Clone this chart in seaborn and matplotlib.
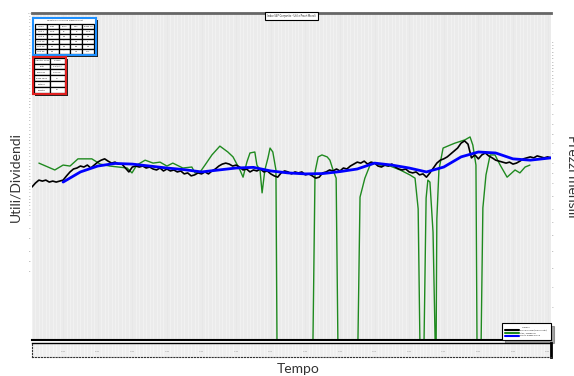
import numpy as np
import pandas as pd
import seaborn as sns
import matplotlib
matplotlib.use('Agg')
import matplotlib.pyplot as plt
from matplotlib.patches import Rectangle
from matplotlib.lines import Line2D

# monthly prices (annual samples), black line
price_years = list(range(1871, 2022))
price_vals = [46.8, 48.0, 48.9, 48.6, 48.9, 48.3, 48.6, 48.3, 48.6, 48.9,
              50.2, 51.4, 52.3, 52.6, 53.2, 52.9, 53.5, 52.6, 53.5, 54.4,
              55.0, 55.4, 54.7, 54.1, 54.4, 53.8, 53.8, 52.6, 51.4, 52.9,
              53.2, 52.9, 53.2, 52.6, 52.9, 52.3, 52.0, 52.6, 51.7, 52.3,
              51.7, 52.0, 51.4, 51.7, 50.8, 51.1, 50.2, 50.5, 51.1, 50.8,
              51.4, 50.8, 51.7, 52.3, 53.2, 53.8, 54.1, 53.8, 53.2, 53.5,
              52.9, 52.0, 52.3, 51.4, 52.0, 51.7, 52.3, 51.4, 51.7, 50.8,
              50.2, 49.8, 51.1, 51.7, 51.4, 50.8, 51.4, 51.1, 51.4, 50.5,
              50.8, 50.2, 49.5, 49.8, 51.1, 51.4, 52.0, 51.7, 52.3, 51.7,
              52.6, 52.3, 53.2, 53.8, 54.4, 54.1, 54.7, 53.8, 54.4, 54.1,
              53.2, 52.9, 53.5, 53.2, 53.8, 52.9, 52.3, 52.0, 52.3, 51.4,
              51.1, 51.4, 50.5, 50.8, 49.8, 51.1, 52.6, 54.1, 55.0, 55.4,
              56.0, 56.9, 57.8, 58.7, 60.2, 60.9, 59.9, 55.7, 56.6, 55.4,
              56.6, 57.2, 56.3, 55.7, 55.0, 54.7, 54.4, 54.1, 54.4, 53.8,
              54.1, 54.7, 55.4, 55.7, 56.0, 55.7, 56.3, 56.0, 55.7, 56.0,
              55.7]

# smoothed trend, blue line
trend_years = [1880, 1885, 1890, 1895, 1900, 1905, 1910, 1915, 1920, 1925,
               1930, 1935, 1940, 1945, 1950, 1955, 1960, 1965, 1970, 1975,
               1980, 1985, 1990, 1995, 2000, 2005, 2010, 2015, 2021]
trend_vals = [48.3, 51.4, 53.2, 54.0, 53.8, 53.2, 52.6, 52.1, 51.4, 52.0,
              52.6, 52.8, 51.7, 51.1, 50.8, 50.9, 51.5, 52.3, 54.1, 53.5,
              52.6, 51.4, 52.9, 56.0, 57.5, 57.2, 55.4, 55.0, 55.7]

# earnings / dividends, green line (0 = negative, clipped at the floor)
earn_years = [1873.0, 1877.6, 1880.0, 1882.0, 1884.3, 1888.3, 1890.7, 1893.5,
              1898.5, 1899.9, 1901.3, 1903.7, 1906.0, 1908.0, 1910.0, 1911.7,
              1914.6, 1917.2, 1918.1, 1919.6, 1921.0, 1923.0, 1925.3, 1927.6,
              1929.1, 1931.1, 1932.0, 1933.1, 1934.0, 1935.4, 1936.0, 1936.9,
              1937.5, 1938.3, 1939.2, 1939.8, 1940.6, 1941.5, 1941.8, 1952.2,
              1952.8, 1953.7, 1954.8, 1956.3, 1957.1, 1958.0, 1958.9, 1959.4,
              1965.2, 1965.8, 1967.2, 1968.7, 1970.1, 1971.6, 1974.5, 1977.4,
              1980.2, 1981.7, 1982.6, 1983.1, 1984.3, 1984.9, 1985.4, 1986.0,
              1986.9, 1987.5, 1987.8, 1988.0, 1988.6, 1989.8, 1991.8, 1993.2,
              1996.1, 1997.6, 1998.4, 1999.3, 1999.6, 2000.8, 2001.3, 2002.2,
              2003.4, 2004.8, 2006.3, 2008.3, 2010.6, 2012.0, 2013.5, 2014.9]
earn_vals = [54.1, 52.0, 53.5, 53.2, 55.4, 55.4, 53.8, 53.2,
             52.6, 51.1, 53.5, 55.0, 54.1, 54.4, 53.2, 54.1,
             52.6, 52.9, 51.1, 51.4, 53.5, 56.6, 59.3, 57.5,
             56.0, 52.0, 49.8, 54.4, 57.2, 57.5, 53.5, 52.0,
             45.0, 52.0, 55.7, 58.7, 57.5, 52.0, 0.0, 0.0,
             51.4, 56.0, 56.6, 56.0, 55.0, 52.0, 49.5, 0.0,
             0.0, 43.7, 49.5, 53.5, 54.1, 53.5, 53.2, 52.0,
             50.5, 49.5, 40.1, 0.0, 0.0, 43.4, 48.9, 48.3,
             33.0, 0.0, 0.0, 37.0, 52.0, 58.7, 59.6, 60.2,
             61.2, 62.1, 59.6, 53.5, 0.0, 0.0, 40.4, 50.5,
             56.6, 56.6, 53.5, 49.8, 52.0, 51.1, 52.9, 53.5]

growth_cols = ['Years', 'Sales', 'Earns', 'Divs', 'Book Val']
growth_rows = [['Last 1', '-13.0', '31', '8', '-13.0'],
               ['Last 5', '7.7', '6.6', '4.0', '4.6'],
               ['Last 10', '-3.8', '---', '0.1', '-7'],
               ['Last 20', '5.5', '5.6', '3.0', '4.6'],
               ['Last 30', '6.6', '---', '7.6', '10.7']]
info_rows = [['Industry Code', '999999'],
             ['Beta', '1.0 (Est.)'],
             ['Common', '100.00%'],
             ['Book value', '40'],
             ['Options', ''],
             ['Country', 'US']]

sns.set_style('white')
plt.rcParams['font.family'] = ['Lato', 'DejaVu Sans']

fig = plt.figure(figsize=(5.74, 3.76), dpi=100)
ax = fig.add_axes([0.0557, 0.0957, 0.9043, 0.8697])
ax.set_facecolor('#ebebeb')

sns.lineplot(x=earn_years, y=earn_vals, ax=ax, color='#1f8a1f', lw=1.0,
             estimator=None, sort=False)
sns.lineplot(x=price_years, y=price_vals, ax=ax, color='black', lw=1.2,
             estimator=None)
sns.lineplot(x=trend_years, y=trend_vals, ax=ax, color='#0000ff', lw=2.0,
             estimator=None)

ax.set_xlim(1871, 2021)
ax.set_ylim(0, 100)
ax.set_xticks(range(1871, 2022), minor=True)
ax.set_xticks(range(1875, 2022, 5))
ax.grid(which='minor', axis='x', color='#f5f5f5', lw=0.5)
ax.grid(which='major', axis='x', color='#e6e6e6', lw=0.5)
ax.tick_params(axis='x', labelbottom=False, length=0, which='both')
lt = list(range(38, 101)) + [21, 24, 27, 31, 34]
ax.set_yticks(lt)
ax.set_yticklabels(['%d' % t for t in lt])
ax.tick_params(axis='y', labelsize=1.5, length=0, pad=0.5, labelcolor='#888')
for s in ['left', 'right']:
    ax.spines[s].set_visible(False)
ax.spines['top'].set_color('#666')
ax.spines['top'].set_linewidth(2)
ax.spines['bottom'].set_color('black')
ax.spines['bottom'].set_linewidth(1.5)

fig.text(0.027, 0.53, 'Utili/Dividendi', rotation=90, fontsize=10,
         color='#333', ha='center', va='center')

ax2 = ax.twinx()
ax2.set_ylim(0, 100)
rt = list(range(75, 92)) + [72, 69, 66, 63, 60, 57, 54, 51, 48, 44, 40, 36, 32, 27, 22, 16, 10]
ax2.set_yticks(rt)
ax2.set_yticklabels(['%d' % t for t in rt])
ax2.tick_params(axis='y', labelsize=1.5, length=0, pad=0.5, labelcolor='#888')
for s in ax2.spines.values():
    s.set_visible(False)
fig.text(0.996, 0.53, 'Prezzi mensili', rotation=270, fontsize=10,
         color='#333', ha='center', va='center')

ax.text(0.5, 0.997, 'Indice S&P Composite - Utili e Prezzi Mensili',
        transform=ax.transAxes, fontsize=1.8, ha='center', va='top',
        bbox=dict(facecolor='white', edgecolor='black', lw=0.8, pad=1.2))

handles = [Line2D([], [], color='black', lw=1.5),
           Line2D([], [], color='#1f8a1f', lw=1.5),
           Line2D([], [], color='#0000ff', lw=1.5)]
leg = ax.legend(handles, ['Prezzi mensili (scala destra)', 'Utili / Dividendi',
                          'Media mobile prezzi'],
                loc='lower right', fontsize=1.6, title='Legenda',
                title_fontsize=1.6, frameon=True, fancybox=False,
                shadow=True, edgecolor='black', borderpad=1.5,
                handlelength=6, borderaxespad=0.1)
leg.get_frame().set_linewidth(0.8)

# bottom time strip
axs = fig.add_axes([0.0557, 0.0505, 0.9043, 0.0372], sharex=ax)
axs.set_facecolor('#efefef')
axs.set_yticks([])
axs.set_xticks(range(1880, 2021, 10))
axs.tick_params(axis='x', labelsize=1.5, length=0, pad=-4, labelcolor='#888')
axs.grid(which='minor', axis='x', color='#f8f8f8', lw=0.5)
axs.spines['top'].set_color('black')
axs.spines['top'].set_linewidth(1)
axs.spines['right'].set_color('black')
axs.spines['right'].set_linewidth(2)
for s in ['left', 'bottom']:
    axs.spines[s].set_linestyle(':')
    axs.spines[s].set_color('#333')
fig.text(0.52, 0.018, 'Tempo', fontsize=10, color='#333',
         ha='center', va='center')


def draw_table(rect, rows, border, title=None, cols=None):
    fig.add_artist(Rectangle((rect[0] + 0.004, rect[1] - 0.006), rect[2], rect[3],
                             transform=fig.transFigure, facecolor='#222',
                             edgecolor='none', zorder=4))
    tax = fig.add_axes(rect, zorder=5)
    tax.set_xticks([])
    tax.set_yticks([])
    tax.set_facecolor('white')
    for s in tax.spines.values():
        s.set_color(border)
        s.set_linewidth(1.5)
    cell = list(rows)
    if cols is not None:
        cell = [cols] + cell
    top = 1.0
    if title is not None:
        tax.text(0.5, 0.93, title, fontsize=1.6, ha='center', va='center',
                 transform=tax.transAxes)
        top = 0.86
    tb = tax.table(cellText=cell, bbox=[0.03, 0.03, 0.94, top - 0.05],
                   cellLoc='center')
    tb.auto_set_font_size(False)
    tb.set_fontsize(1.6)
    for c in tb.get_celld().values():
        c.set_linewidth(0.9)
        c.set_edgecolor('black')


draw_table([0.0575, 0.8537, 0.1098, 0.0984], growth_rows, '#1e90ff',
           title='Growth Performance Measurement', cols=growth_cols)
draw_table([0.0575, 0.75, 0.0575, 0.0984], info_rows, '#e02020')

fig.savefig('out.png', dpi=100)
